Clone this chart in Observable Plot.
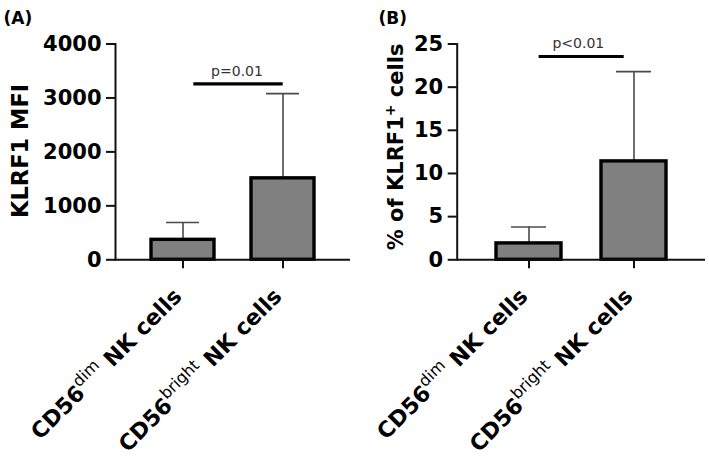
<!DOCTYPE html>
<html><head><meta charset="utf-8">
<script src="https://cdn.jsdelivr.net/npm/d3@7"></script>
<script src="https://cdn.jsdelivr.net/npm/@observablehq/plot@0.6"></script>
<style>
html,body{margin:0;padding:0;background:#fff;}
#wrap{display:flex;width:709px;height:461px;overflow:hidden;}
#wrap svg{font-family:"DejaVu Sans",sans-serif;display:block;}
</style></head><body><div id="wrap"></div>
<script>
// ---- data ----
const subsets = ["dim", "bright"];            // CD56 subsets
const mfiMean = [370, 1510];                  // panel A: KLRF1 MFI (mean)
const mfiErr  = [320, 1570];                  // panel A: upper error (SD)
const pctMean = [1.9, 11.4];                  // panel B: % KLRF1+ (mean)
const pctErr  = [1.9, 10.4];                  // panel B: upper error (SD)
const mfiTicks = [0, 1000, 2000, 3000, 4000];
const pctTicks = [0, 5, 10, 15, 20, 25];
const mfiSig = {text: "p=0.01", y: 3260};
const pctSig = {text: "p<0.01", y: 23.55};

function rows(means, errs) {
  return subsets.map((s, i) => ({subset: s, mean: means[i], upper: means[i] + errs[i]}));
}

function panel(o) {
  const data = rows(o.means, o.errs);
  const svg = Plot.plot({
    width: o.width, height: 461,
    marginLeft: o.marginLeft, marginRight: o.marginRight,
    marginTop: 43.5, marginBottom: 201.7,
    style: {background: "white", fontFamily: "DejaVu Sans", overflow: "visible", color: "#000"},
    x: {domain: subsets, paddingInner: o.padIn, paddingOuter: o.padOut, axis: null},
    y: {domain: [0, o.ticks[o.ticks.length - 1]], axis: null},
    marks: [
      Plot.ruleX(data, {x: "subset", y1: "mean", y2: "upper", stroke: "#4a4a4a", strokeWidth: 1.6}),
      Plot.tickY(data, {x: "subset", y: "upper", stroke: "#4a4a4a", strokeWidth: 1.6, insetLeft: 15, insetRight: 15}),
      Plot.barY(data, {x: "subset", y: "mean", fill: "#808080", stroke: "#000", strokeWidth: 3.4}),
      Plot.ruleY([0], {stroke: "#111", strokeWidth: 2}),
      Plot.frame({anchor: "left", stroke: "#111", strokeWidth: 2}),
      Plot.axisY({ticks: o.ticks, tickFormat: d3.format("d"), tickSize: 9, tickPadding: 5,
        fontSize: 21, fontWeight: "bold", stroke: "#111", strokeWidth: 2, label: null}),
      Plot.axisX({tickSize: 9, tickPadding: 4, tickRotate: -45, tickFormat: d => `CD56${d} NK cells`,
        fontSize: 22, fontWeight: "bold", stroke: "#111", strokeWidth: 2, label: null}),
      Plot.ruleY([o.sig.y], {x1: () => "dim", x2: () => "bright", insetLeft: o.sigInL, insetRight: o.sigInR,
        stroke: "#000", strokeWidth: 3.2}),
      Plot.text([o.sig.text], {y: () => o.sig.y, text: d => d, lineAnchor: "bottom", dy: -8.3, dx: o.pDx,
        fontSize: 14, fill: "#333"}),
      Plot.text([o.yLabel], {frameAnchor: "left", rotate: -90, textAnchor: "middle", lineAnchor: "top",
        dx: o.labDx, dy: o.labDy, fontSize: o.labSize, fontWeight: "bold", fill: "#000"}),
      Plot.text([o.tag], {frameAnchor: "top-left", textAnchor: "start", lineAnchor: "top",
        dx: o.tagDx, dy: -32, fontSize: 17, fontWeight: "bold", fill: "#000"})
    ]
  });
  const s = d3.select(svg);
  s.selectAll('g[aria-label="y-axis tick label"] text').attr("font-weight", "bold").attr("font-size", 21);
  s.selectAll('g[aria-label="x-axis tick label"] text').each(function () {
    const t = d3.select(this);
    const str = this.textContent;
    const sup = str.slice(4, str.indexOf(" "));
    const rest = str.slice(str.indexOf(" "));
    const tr = t.attr("transform") || "";
    t.attr("transform", `translate(-5,20) ${tr}`);
    t.text(null).attr("font-weight", "bold").attr("font-size", 22);
    t.append("tspan").text("CD56");
    t.append("tspan").attr("font-size", 16).attr("font-weight", "normal").attr("dy", -10).text(sup);
    t.append("tspan").attr("dy", 10).text(rest);
  });
  s.selectAll("text").filter(function () { return this.textContent === "% of KLRF1+ cells"; }).each(function () {
    const t = d3.select(this);
    t.text(null);
    t.append("tspan").text("% of KLRF1");
    t.append("tspan").attr("font-size", 14).attr("dy", -8).text("+");
    t.append("tspan").attr("dy", 8).text(" cells");
  });
  return svg;
}

const wrap = document.getElementById("wrap");
wrap.appendChild(panel({
  width: 355, marginLeft: 115, marginRight: 5, padIn: 0.374, padOut: 0.355,
  ticks: mfiTicks, means: mfiMean, errs: mfiErr, sig: mfiSig, sigInL: 42.3, sigInR: 31.3, pDx: 4,
  yLabel: "KLRF1 MFI", labDx: -103, labDy: -1, labSize: 22.5, tag: "(A)", tagDx: -112
}));
wrap.appendChild(panel({
  width: 354, marginLeft: 101.7, marginRight: 4, padIn: 0.385, padOut: 0.365,
  ticks: pctTicks, means: pctMean, errs: pctErr, sig: pctSig, sigInL: 42.6, sigInR: 42.3, pDx: -3,
  yLabel: "% of KLRF1+ cells", labDx: -69.5, labDy: -5, labSize: 21, tag: "(B)", tagDx: -78.7
}));
</script>
</body></html>
